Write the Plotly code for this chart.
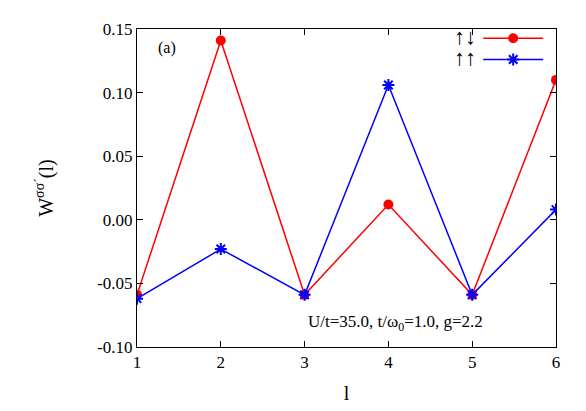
import plotly.graph_objects as go

l_vals = [1, 2, 3, 4, 5, 6]
w_updown = [-0.059, 0.141, -0.059, 0.012, -0.059, 0.110]
w_upup = [-0.062, -0.023, -0.059, 0.106, -0.059, 0.008]
y_ticks = [-0.10, -0.05, 0.00, 0.05, 0.10, 0.15]
y_labels = ["-0.10", "-0.05", "0.00", "0.05", "0.10", "0.15"]

font = "Liberation Serif"
fig = go.Figure()
fig.add_trace(go.Scatter(x=l_vals, y=w_updown, mode="lines+markers", name=" ",
                         line=dict(color="#ff0000", width=1.5),
                         marker=dict(symbol="circle", size=10, color="#ff0000")))
fig.add_trace(go.Scatter(x=l_vals, y=w_upup, mode="lines+markers", name="  ",
                         line=dict(color="#0000ff", width=1.5),
                         marker=dict(symbol="asterisk-open", size=10,
                                     line=dict(color="#0000ff", width=2))))

axis_common = dict(showline=True, linecolor="black", linewidth=1, mirror="ticks",
                   ticks="inside", ticklen=6, tickcolor="black", showgrid=False,
                   zeroline=False, tickfont=dict(family=font, size=17, color="black"))
fig.update_layout(
    width=586, height=411, plot_bgcolor="white", paper_bgcolor="white",
    margin=dict(l=129, r=38, t=16, b=72),
    font=dict(family=font, size=17, color="black"),
    xaxis=dict(range=[1, 6], tickvals=l_vals, title=dict(text="l", standoff=14), **axis_common),
    yaxis=dict(range=[-0.10, 0.15], tickvals=y_ticks, ticktext=y_labels,
               title=dict(text="W<sup>σσ´</sup>(l)", standoff=38), **axis_common),
    legend=dict(x=1.01, y=1.02, xanchor="right", yanchor="top", bgcolor="rgba(0,0,0,0)",
                itemwidth=60, tracegroupgap=0, font=dict(size=14)),
    annotations=[
        dict(text="(a)", x=0.072, y=0.94, xref="paper", yref="paper", showarrow=False,
             xanchor="center", yanchor="middle", font=dict(size=16)),
        dict(text="U/t=35.0, t/ω<sub>0</sub>=1.0, g=2.2", x=0.616, y=0.075, xref="paper",
             yref="paper", showarrow=False, xanchor="center", yanchor="middle",
             font=dict(size=17)),
        dict(text="↑↓", x=0.782, y=0.975, xref="paper", yref="paper", showarrow=False,
             xanchor="center", yanchor="middle", font=dict(size=22)),
        dict(text="↑↑", x=0.782, y=0.91, xref="paper", yref="paper", showarrow=False,
             xanchor="center", yanchor="middle", font=dict(size=22)),
    ],
)
fig.write_html("out.html")
